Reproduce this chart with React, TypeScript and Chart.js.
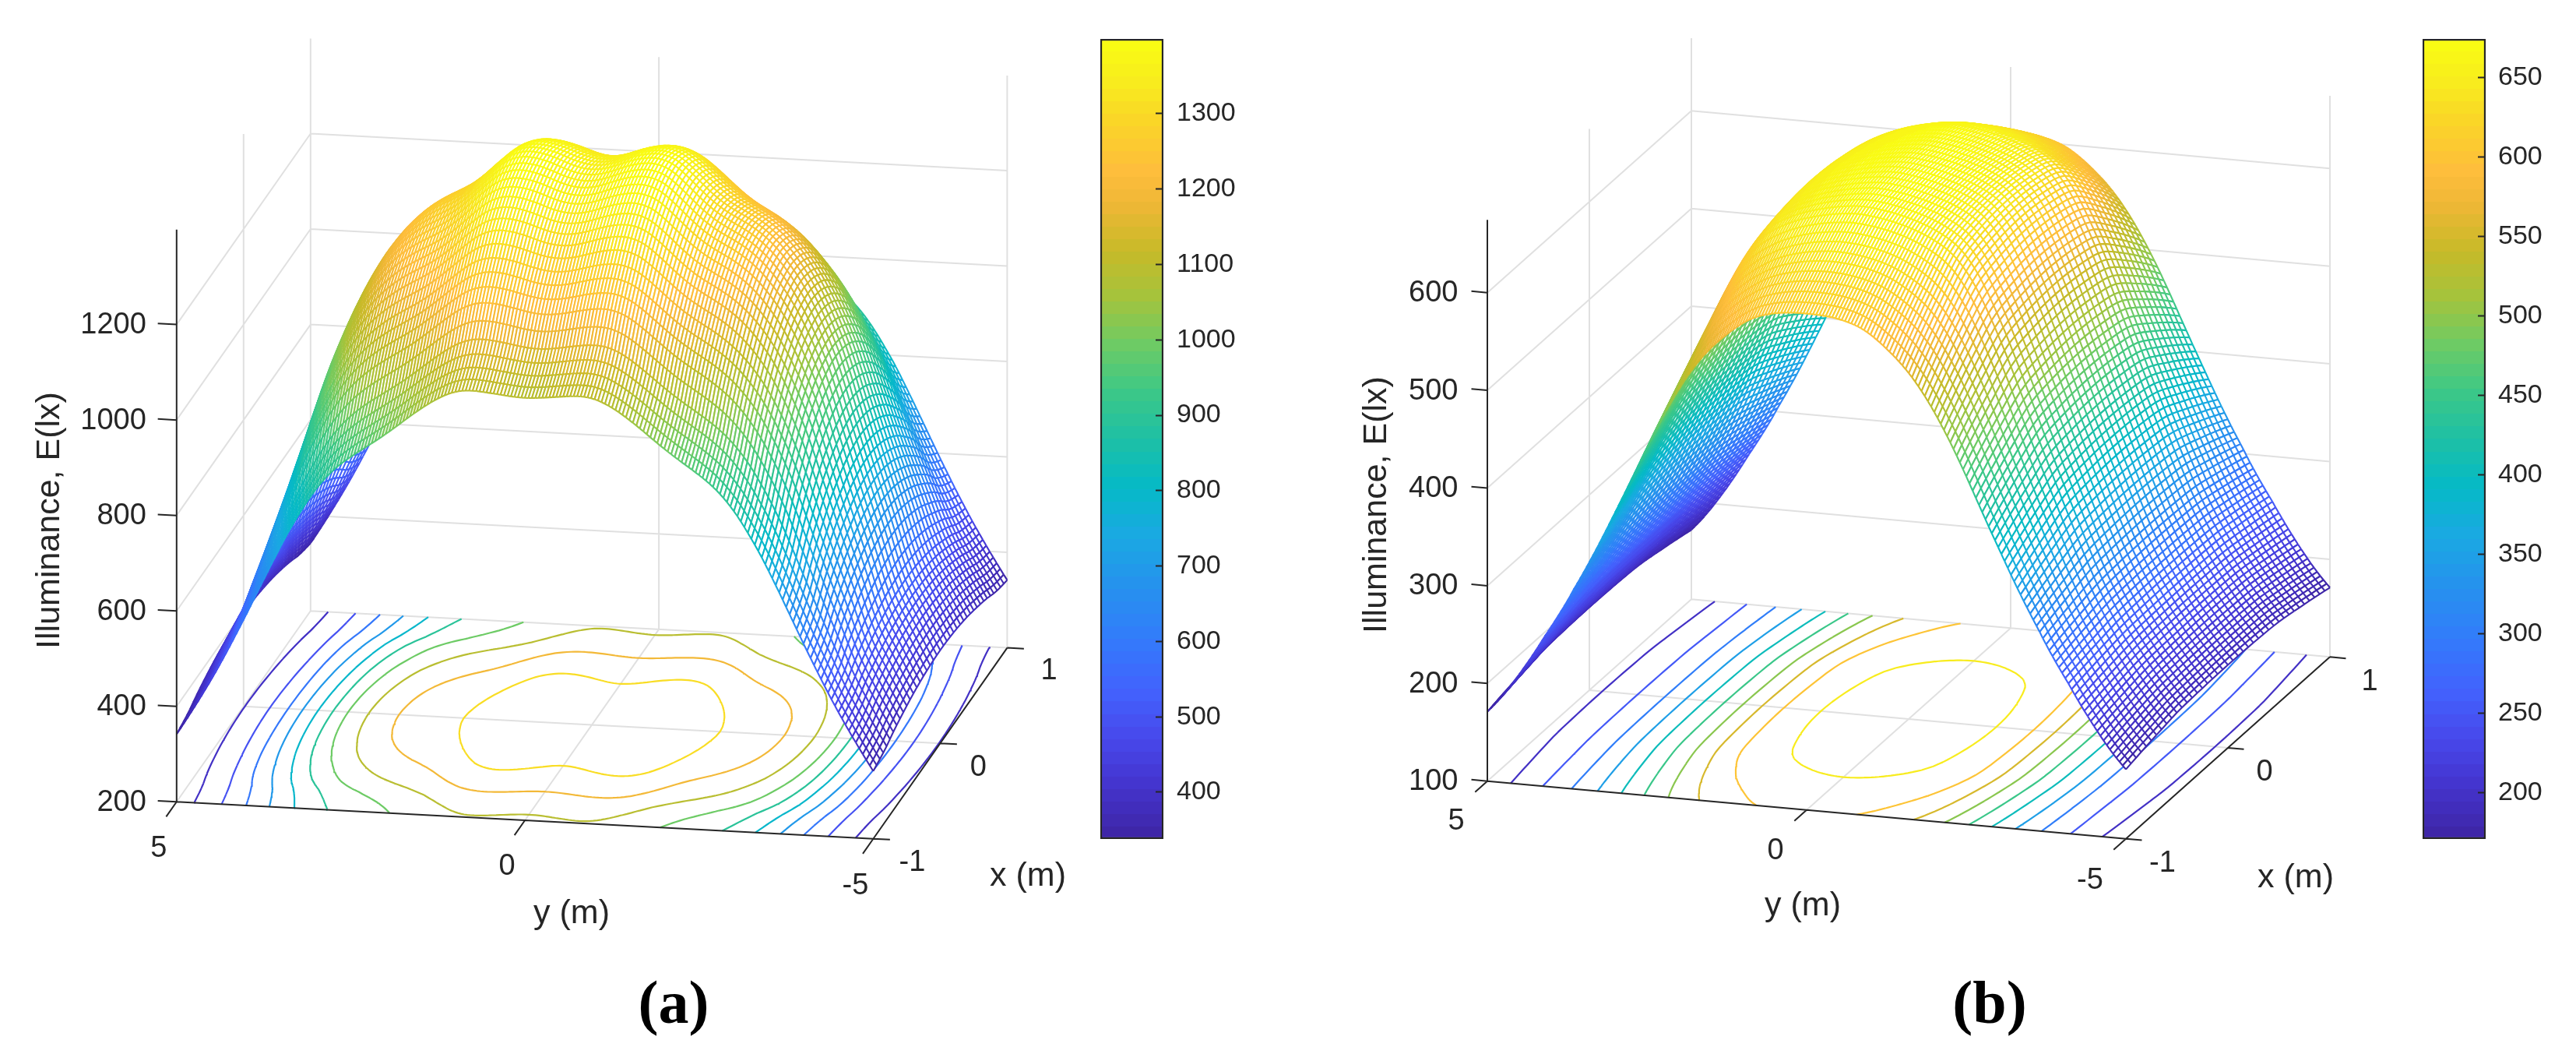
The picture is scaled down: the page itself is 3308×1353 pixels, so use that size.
import React, { useEffect, useRef } from "react";
import { Chart, registerables } from "chart.js";

Chart.register(...registerables);

// Surface readings in lux. Each row runs from y = 0 to y = 5 m in 0.05 m steps and the picture
// is mirror-symmetric about y = 0. "centre" is the row x = 0, "edge" the row x = +/-1 m.
const centreRowA = [
  1364, 1364.3, 1365, 1366.2, 1367.8, 1369.8, 1372.1, 1374.7, 1377.5, 1380.3,
  1383, 1385.5, 1387.8, 1389.8, 1391.5, 1392.9, 1393.9, 1394.5, 1394.6, 1394,
  1392.7, 1390.7, 1388, 1384.7, 1380.3, 1375, 1369, 1362.6, 1356, 1349.2,
  1342.3, 1335.4, 1328.6, 1322, 1315.7, 1309.7, 1304.1, 1298.9, 1294.1, 1289.7,
  1285.6, 1281.7, 1277.9, 1274.1, 1270.2, 1266.1, 1261.7, 1257, 1251.9, 1246.4,
  1240.5, 1234.1, 1227.2, 1219.8, 1211.8, 1203.3, 1194.3, 1184.8, 1174.8, 1164.2,
  1152.8, 1140.7, 1127.9, 1114.4, 1100.2, 1085.2, 1069.4, 1052.8, 1035.5, 1017.6,
  999.2, 978, 955, 932, 907, 883.5, 860, 836.5, 813, 790,
  767, 744.5, 722, 699.5, 677, 654, 630, 605, 581, 559,
  539, 522, 506.5, 492.5, 478.5, 464.5, 450.5, 436.5, 422.5, 408.5,
  395,
];
const edgeRowA = [
  1085, 1085.1, 1085.4, 1085.9, 1086.5, 1087.2, 1088, 1088.8, 1089.6, 1090.4,
  1091.2, 1092, 1092.7, 1093.3, 1093.8, 1094, 1094, 1093.6, 1092.8, 1091.5,
  1089.7, 1087.4, 1084.6, 1081.3, 1077.7, 1073.7, 1069.5, 1065, 1060.2, 1055.2,
  1050, 1044.7, 1039.2, 1033.6, 1027.9, 1022.1, 1016.3, 1010.5, 1004.8, 999.2,
  993.7, 988.3, 983, 977.8, 972.7, 967.7, 962.7, 957.7, 952.7, 947.6,
  942.4, 937, 931.4, 925.5, 919.2, 912.4, 905.1, 897.3, 889, 880.1,
  870.6, 860.5, 849.8, 838.5, 826.7, 814.6, 802.4, 790, 776.8, 763,
  749, 734.5, 720, 705.5, 690.5, 675.5, 660.5, 645.5, 630.5, 615.5,
  600.7, 586, 571.5, 557, 542.8, 528.7, 514.8, 501, 487.5, 474.2,
  461.2, 448.5, 436, 423.7, 411.5, 399.5, 387.7, 376, 364.5, 353,
  342,
];
const centreRowB = [
  675, 674.9, 674.7, 674.4, 674, 673.6, 673.1, 672.6, 672, 671.4,
  670.7, 670, 669.2, 668.4, 667.6, 666.7, 665.8, 664.8, 663.8, 662.7,
  661.6, 660.4, 659.1, 657.7, 656.2, 654.6, 652.9, 651, 648.9, 646.5,
  643.7, 640.5, 636.9, 632.9, 628.6, 623.8, 618.6, 612.9, 606.8, 600.3,
  593.5, 586.5, 579.3, 571.9, 564.3, 556.5, 548.5, 540.3, 532, 523.6,
  515.1, 506.6, 498.1, 489.6, 481.1, 472.6, 464.1, 455.6, 447.1, 438.6,
  430.2, 421.9, 413.7, 405.6, 397.3, 389, 380.8, 372.8, 364.5, 356.3,
  348.2, 340.2, 332.3, 324.6, 317, 309.8, 302.9, 296.2, 289.7, 283.4,
  277.3, 271.4, 265.7, 260.1, 254.7, 249.5, 244.4, 239.5, 234.7, 230,
  225.4, 220.9, 216.5, 212.2, 208, 203.9, 199.9, 196, 192.2, 188.5,
  184.9,
];
const edgeRowB = [
  608, 608, 607.9, 607.8, 607.7, 607.5, 607.2, 606.9, 606.5, 606,
  605.4, 604.7, 603.9, 603, 602, 600.9, 599.6, 598.1, 596.4, 594.5,
  592.4, 590.1, 587.6, 585, 582.3, 579.5, 576.6, 573.6, 570.5, 567.3,
  563.9, 560.3, 556.5, 552.5, 548.3, 543.9, 539.3, 534.5, 529.5, 524.3,
  518.9, 513.3, 507.5, 501.6, 495.6, 489.4, 483, 476.5, 469.8, 463,
  456.1, 449.1, 442.1, 435, 428, 421, 414, 407, 400.2, 393.4,
  386.6, 379.8, 373, 366.3, 359.6, 353, 346.5, 340.1, 333.8, 327.6,
  321.5, 315.5, 309.6, 303.8, 297.5, 291.5, 285.7, 280.1, 274.6, 269.2,
  263.9, 258.7, 253.6, 248, 242.6, 237.3, 232.1, 227, 222, 217.1,
  212.3, 207.6, 203, 198.5, 194.1, 189.9, 185.8, 181.9, 178.2, 174.6,
  171,
];
// Share of the way from the edge row to the centre row, for |x| = 0 to 1 m in 0.05 m steps.
const crossWeightA = [1, 0.996, 0.985, 0.97, 0.948, 0.92, 0.885, 0.845, 0.8, 0.75, 0.69, 0.625, 0.56, 0.49, 0.412, 0.32, 0.225, 0.155, 0.095, 0.045, 0];
const crossWeightB = [1, 0.998, 0.993, 0.985, 0.974, 0.96, 0.944, 0.926, 0.905, 0.875, 0.83, 0.765, 0.69, 0.61, 0.53, 0.45, 0.365, 0.28, 0.19, 0.098, 0];

const contourLevelsA = [400, 500, 600, 700, 800, 900, 1000, 1100, 1200, 1300];
const contourLevelsB = [200, 250, 300, 350, 400, 450, 500, 550, 600, 650];
const zTicksA = [200, 400, 600, 800, 1000, 1200];
const zTicksB = [100, 200, 300, 400, 500, 600];
const yTicks = [5, 0, -5];
const xTicks = [-1, 0, 1];
const colourTicksA = [400, 500, 600, 700, 800, 900, 1000, 1100, 1200, 1300];
const colourTicksB = [200, 250, 300, 350, 400, 450, 500, 550, 600, 650];
const colourRangeA: [number, number] = [338, 1399];
const colourRangeB: [number, number] = [171, 674.5];

const INK = "#262626";
const GRID = "#e0e0e0";
const FONT = '"Liberation Sans"';

const parulaStops: [number, number, number, number][] = [
  [0, 62, 38, 168], [0.06, 68, 52, 205], [0.12, 72, 72, 235], [0.18, 66, 98, 254],
  [0.25, 50, 125, 250], [0.32, 36, 148, 236], [0.38, 25, 170, 225], [0.44, 5, 186, 198],
  [0.5, 30, 192, 165], [0.56, 60, 200, 135], [0.62, 110, 203, 100], [0.68, 165, 195, 60],
  [0.74, 200, 186, 40], [0.8, 240, 183, 55], [0.84, 254, 190, 60], [0.9, 250, 212, 40],
  [0.95, 248, 235, 30], [1, 249, 251, 20],
];
const parulaTable: string[] = [];
for (let i = 0; i < 64; i++) {
  const t = i / 63;
  let k = 0;
  while (k < parulaStops.length - 2 && parulaStops[k + 1][0] < t) k++;
  const a = parulaStops[k];
  const b = parulaStops[k + 1];
  const f = (t - a[0]) / (b[0] - a[0]);
  parulaTable.push(`rgb(${[1, 2, 3].map((c) => Math.round(a[c] + (b[c] - a[c]) * f)).join(",")})`);
}
const colourOf = (z: number, range: [number, number]) => {
  const t = (z - range[0]) / (range[1] - range[0]);
  return parulaTable[Math.max(0, Math.min(63, Math.floor(t * 64)))];
};

type Panel = {
  centre: number[]; edge: number[]; weight: number[]; levels: number[]; zTicks: number[];
  range: [number, number]; zBase: number; zTop: number;
  origin: [number, number]; spanX: [number, number]; spanY: [number, number]; pxPerLux: number;
  yTickLen: number; xTickLen: number; zTickLen: number;
  zLabelGap: number; yLabelOff: [number, number][]; xLabelOff: [number, number][];
  yTitle: [number, number]; xTitle: [number, number]; zTitle: [number, number];
  caption: string; captionAt: [number, number];
};

const panels: Panel[] = [
  {
    centre: centreRowA, edge: edgeRowA, weight: crossWeightA, levels: contourLevelsA, zTicks: zTicksA,
    range: colourRangeA, zBase: 200, zTop: 1399,
    origin: [226.8, 1029.3], spanX: [172, -245.1], spanY: [894.6, 47.4], pxPerLux: 0.6127,
    yTickLen: 0.156, xTickLen: 0.24, zTickLen: 0.27,
    zLabelGap: 39, yLabelOff: [[-23, 60], [-23, 60], [-23, 61]], xLabelOff: [[50, 30.6], [49, 31.5], [53.6, 30]],
    yTitle: [734, 1173], xTitle: [1320, 1125], zTitle: [64, 668],
    caption: "(a)", captionAt: [865, 1293],
  },
  {
    centre: centreRowB, edge: edgeRowB, weight: crossWeightB, levels: contourLevelsB, zTicks: zTicksB,
    range: colourRangeB, zBase: 100, zTop: 674.5,
    origin: [1910, 1002.7], spanX: [262, -233.4], spanY: [820, 74], pxPerLux: 1.254,
    yTickLen: 0.12, xTickLen: 0.25, zTickLen: 0.25,
    zLabelGap: 37.5, yLabelOff: [[-40, 52], [-40, 52.6], [-46, 54]], xLabelOff: [[47, 32], [47, 32], [51, 32]],
    yTitle: [2315, 1163], xTitle: [2948, 1126.7], zTitle: [1768, 648],
    caption: "(b)", captionAt: [2555, 1293],
  },
];

const gap = { x: NaN, y: NaN };

function buildPanel(p: Panel) {
  const project = (x: number, y: number, z: number) => {
    const a = (x + 1) / 2;
    const b = (5 - y) / 10;
    return {
      x: p.origin[0] + p.spanX[0] * a + p.spanY[0] * b,
      y: p.origin[1] + p.spanX[1] * a + p.spanY[1] * b - p.pxPerLux * (z - p.zBase),
    };
  };
  const mirror = (half: number[]) => [...half.slice().reverse(), ...half.slice(1)];
  const centre = mirror(p.centre);
  const edge = mirror(p.edge);
  const weight = mirror(p.weight);
  const ny = centre.length;
  const nx = weight.length;
  const yAt = (i: number) => 5 - (10 * i) / (ny - 1);
  const xAt = (j: number) => -1 + (2 * j) / (nx - 1);
  const zAt = (i: number, j: number) => edge[i] + (centre[i] - edge[i]) * weight[j];

  const datasets: any[] = [];
  const line = (data: any[], color: string, width: number) =>
    datasets.push({ data, showLine: true, pointRadius: 0, borderColor: color, borderWidth: width, clip: false });

  // Back walls and floor grid.
  const grid: any[] = [];
  const seg = (a: any, b: any, out: any[]) => out.push(a, b, gap);
  for (const z of p.zTicks) {
    seg(project(-1, 5, z), project(1, 5, z), grid);
    seg(project(1, 5, z), project(1, -5, z), grid);
  }
  seg(project(0, 5, p.zBase), project(0, 5, p.zTop), grid);
  seg(project(1, 5, p.zBase), project(1, 5, p.zTop), grid);
  seg(project(1, 0, p.zBase), project(1, 0, p.zTop), grid);
  seg(project(1, -5, p.zBase), project(1, -5, p.zTop), grid);
  seg(project(0, 5, p.zBase), project(0, -5, p.zBase), grid);
  seg(project(-1, 0, p.zBase), project(1, 0, p.zBase), grid);
  line(grid, GRID, 2);

  // Floor contours by marching squares over the surface grid.
  for (const level of p.levels) {
    const pts: any[] = [];
    const cross = (i0: number, j0: number, i1: number, j1: number) => {
      const z0 = zAt(i0, j0);
      const z1 = zAt(i1, j1);
      if (z0 < level === z1 < level) return null;
      const f = (level - z0) / (z1 - z0);
      return project(xAt(j0) + (xAt(j1) - xAt(j0)) * f, yAt(i0) + (yAt(i1) - yAt(i0)) * f, p.zBase);
    };
    for (let i = 0; i < ny - 1; i++) {
      for (let j = 0; j < nx - 1; j++) {
        const hits = [cross(i, j, i + 1, j), cross(i + 1, j, i + 1, j + 1), cross(i + 1, j + 1, i, j + 1), cross(i, j + 1, i, j)].filter(Boolean);
        if (hits.length >= 2) pts.push(hits[0], hits[1], gap);
        if (hits.length === 4) pts.push(hits[2], hits[3], gap);
      }
    }
    line(pts, colourOf(level, p.range), 2.2);
  }

  // Surface, far strips first: each strip is a white face and then its wires.
  for (let i = 0; i < ny - 1; i++) {
    const face: any[] = [];
    for (let j = nx - 1; j >= 0; j--) face.push(project(xAt(j), yAt(i), zAt(i, j)));
    for (let j = 0; j < nx; j++) face.push(project(xAt(j), yAt(i + 1), zAt(i + 1, j)));
    datasets.push({ data: face, face: true, showLine: false, pointRadius: 0, clip: false });

    const wire: any[] = [];
    const colours: string[] = [];
    const push = (ii: number, j: number) => {
      wire.push(project(xAt(j), yAt(ii), zAt(ii, j)));
      colours.push(colourOf(zAt(ii, j), p.range));
    };
    const skip = () => { wire.push(gap); colours.push("#fff"); };
    for (const ii of [i, i + 1]) {
      for (let j = nx - 1; j >= 0; j--) push(ii, j);
      skip();
    }
    for (let j = nx - 1; j >= 0; j--) {
      push(i, j);
      push(i + 1, j);
      skip();
    }
    datasets.push({
      data: wire, showLine: true, pointRadius: 0, borderWidth: 2.1, borderColor: colours[0], clip: false,
      segment: { borderColor: (c: any) => colours[c.p0DataIndex] },
    });
  }

  // Axes and tick marks.
  const axes: any[] = [];
  seg(project(-1, 5, p.zBase), project(-1, 5, p.zTop), axes);
  seg(project(-1, 5, p.zBase), project(-1, -5, p.zBase), axes);
  seg(project(-1, -5, p.zBase), project(1, -5, p.zBase), axes);
  for (const z of p.zTicks) seg(project(-1, 5, z), project(-1, 5 + p.zTickLen, z), axes);
  for (const y of yTicks) seg(project(-1, y, p.zBase), project(-1 - p.yTickLen, y, p.zBase), axes);
  for (const x of xTicks) seg(project(x, -5, p.zBase), project(x, -5 - p.xTickLen, p.zBase), axes);
  line(axes, INK, 2);

  // Labels.
  const texts: any[] = [];
  const tickFont = `38px ${FONT}`;
  const titleFont = `43px ${FONT}`;
  for (const z of p.zTicks) {
    const at = project(-1, 5, z);
    texts.push({ text: String(z), x: at.x - p.zLabelGap, y: at.y + 1, align: "right", font: tickFont });
  }
  yTicks.forEach((y, k) => {
    const at = project(-1, y, p.zBase);
    texts.push({ text: String(y), x: at.x + p.yLabelOff[k][0], y: at.y + p.yLabelOff[k][1], align: "center", font: tickFont });
  });
  xTicks.forEach((x, k) => {
    const at = project(x, -5, p.zBase);
    texts.push({ text: String(x), x: at.x + p.xLabelOff[k][0], y: at.y + p.xLabelOff[k][1], align: "center", font: tickFont });
  });
  texts.push({ text: "y (m)", x: p.yTitle[0], y: p.yTitle[1], align: "center", font: titleFont });
  texts.push({ text: "x (m)", x: p.xTitle[0], y: p.xTitle[1], align: "center", font: titleFont });
  texts.push({ text: "Illuminance, E(lx)", x: p.zTitle[0], y: p.zTitle[1], align: "center", font: titleFont, rotate: true });
  texts.push({ text: p.caption, x: p.captionAt[0], y: p.captionAt[1], align: "center", font: `bold 78px "Liberation Serif"`, color: "#000" });
  return { datasets, texts };
}

const facePlugin = {
  id: "surfaceFaces",
  beforeDatasetDraw(chart: any, args: any) {
    const ds = chart.data.datasets[args.index];
    if (!ds.face) return;
    const ctx = chart.ctx;
    ctx.beginPath();
    args.meta.data.forEach((pt: any, i: number) => (i ? ctx.lineTo(pt.x, pt.y) : ctx.moveTo(pt.x, pt.y)));
    ctx.closePath();
    ctx.fillStyle = "#fff";
    ctx.fill();
  },
};

const textPlugin = {
  id: "panelTexts",
  afterDraw(chart: any, _a: any, opts: any) {
    const ctx = chart.ctx;
    for (const t of opts.items) {
      ctx.save();
      ctx.translate(t.x, t.y);
      if (t.rotate) ctx.rotate(-Math.PI / 2);
      ctx.font = t.font;
      ctx.fillStyle = t.color || INK;
      ctx.textAlign = t.align;
      ctx.textBaseline = "middle";
      ctx.fillText(t.text, 0, 0);
      ctx.restore();
    }
  },
};

function makeSurfaceChart(canvas: HTMLCanvasElement) {
  const built = panels.map(buildPanel);
  const drawOrder = built.flatMap((b) => b.datasets);
  return new Chart(canvas, {
    type: "scatter",
    data: { datasets: drawOrder.reverse() },
    options: {
      responsive: false, animation: false, devicePixelRatio: 1, events: [],
      layout: { padding: 0 },
      scales: {
        x: { type: "linear", display: false, min: 0, max: 3308 },
        y: { type: "linear", display: false, min: 0, max: 1353, reverse: true },
      },
      plugins: { legend: { display: false }, tooltip: { enabled: false }, panelTexts: { items: built.flatMap((b) => b.texts) } } as any,
    },
    plugins: [facePlugin, textPlugin],
  } as any);
}

function makeColourBar(canvas: HTMLCanvasElement, range: [number, number], ticks: number[], labelGap: number) {
  return new Chart(canvas, {
    type: "bar",
    data: {
      labels: ["E"],
      datasets: [{
        data: [[range[0], range[1]]],
        categoryPercentage: 1, barPercentage: 1, borderWidth: 2.5, borderColor: INK, borderSkipped: false,
        backgroundColor: (c: any) => {
          const y = c.chart.scales.y;
          const y0 = y ? y.getPixelForValue(range[0]) : NaN;
          const y1 = y ? y.getPixelForValue(range[1]) : NaN;
          if (!Number.isFinite(y0) || !Number.isFinite(y1)) return "#000";
          const g = c.chart.ctx.createLinearGradient(0, y0, 0, y1);
          parulaTable.forEach((col, i) => {
            g.addColorStop(i / 64, col);
            g.addColorStop((i + 1) / 64, col);
          });
          return g;
        },
      }],
    } as any,
    options: {
      responsive: false, animation: false, devicePixelRatio: 1, events: [],
      layout: { padding: { left: 4, top: 30, bottom: 30, right: 0 } },
      scales: {
        x: { display: false },
        y: {
          position: "right", min: range[0], max: range[1],
          afterBuildTicks: (s: any) => { s.ticks = ticks.map((value) => ({ value })); },
          afterFit: (s: any) => { s.width = 119; s.paddingTop = 0; s.paddingBottom = 0; },
          border: { display: false },
          grid: { drawOnChartArea: false, drawTicks: true, tickLength: -10, tickWidth: 2, tickColor: INK, z: 1 },
          ticks: { color: INK, padding: labelGap + 10, font: { family: "Liberation Sans", size: 34 }, callback: (v: any) => String(v) },
        },
      },
      plugins: { legend: { display: false }, tooltip: { enabled: false } },
    },
  } as any);
}

export default function App() {
  const surface = useRef<HTMLCanvasElement>(null);
  const barA = useRef<HTMLCanvasElement>(null);
  const barB = useRef<HTMLCanvasElement>(null);
  useEffect(() => {
    document.body.style.margin = "0";
    const charts = [
      makeSurfaceChart(surface.current!),
      makeColourBar(barA.current!, colourRangeA, colourTicksA, 17),
      makeColourBar(barB.current!, colourRangeB, colourTicksB, 16),
    ];
    return () => charts.forEach((c) => c.destroy());
  }, []);
  const barStyle = (left: number): React.CSSProperties => ({ position: "absolute", left, top: 20 });
  return (
    <div style={{ position: "absolute", left: 0, top: 0, width: 3308, height: 1353, overflow: "hidden", background: "#fff" }}>
      <canvas ref={surface} width={3308} height={1353} style={{ position: "absolute", left: 0, top: 0 }} />
      <canvas ref={barA} width={204} height={1087} style={barStyle(1409)} />
      <canvas ref={barB} width={204} height={1087} style={barStyle(3106.7)} />
    </div>
  );
}
